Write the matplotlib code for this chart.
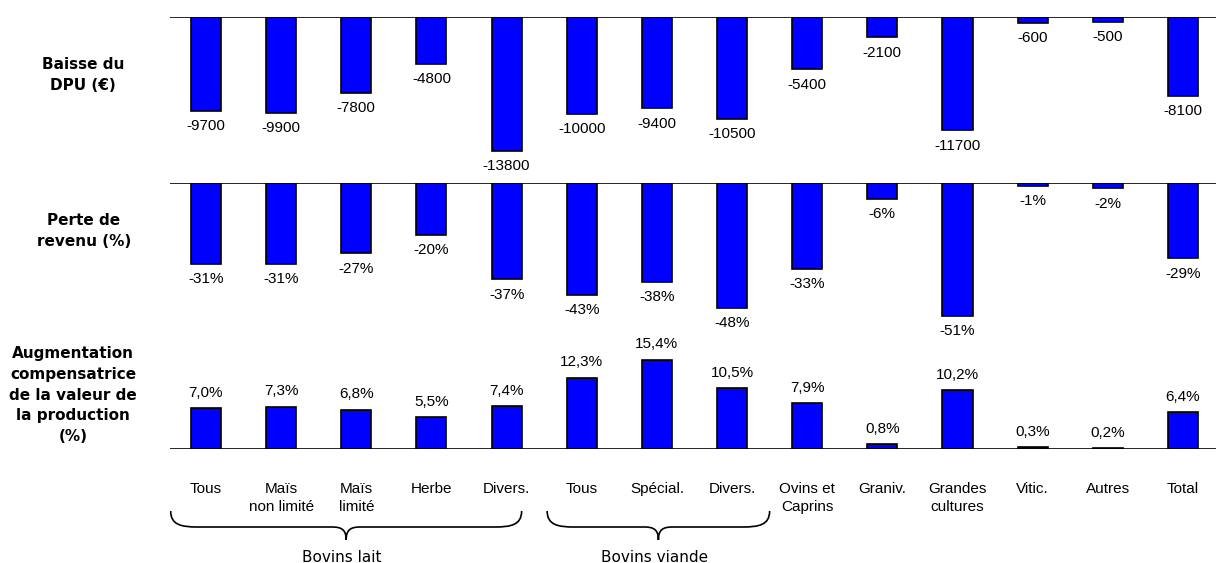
import numpy as np
import matplotlib
matplotlib.use("Agg")
import matplotlib.pyplot as plt
from matplotlib.path import Path
from matplotlib.patches import PathPatch

# --- données ---
categories = ["Tous", "Maïs\nnon limité", "Maïs\nlimité", "Herbe", "Divers.",
              "Tous", "Spécial.", "Divers.", "Ovins et\nCaprins", "Graniv.",
              "Grandes\ncultures", "Vitic.", "Autres", "Total"]
baisse_dpu = [-9700, -9900, -7800, -4800, -13800, -10000, -9400, -10500,
              -5400, -2100, -11700, -600, -500, -8100]
perte_revenu = [-31, -31, -27, -20, -37, -43, -38, -48, -33, -6, -51, -1, -2, -29]
augm_prod = [7.0, 7.3, 6.8, 5.5, 7.4, 12.3, 15.4, 10.5, 7.9, 0.8, 10.2, 0.3, 0.2, 6.4]
row_titles = ["Baisse du\nDPU (€)", "Perte de\nrevenu (%)",
              "Augmentation\ncompensatrice\nde la valeur de\nla production\n(%)"]
groups = ["Bovins lait", "Bovins viande"]
group_spans = [(-0.47, 4.2), (4.54, 7.5)]

W, H = 1216, 563
BLUE = "#0000FF"
ARIAL = "Liberation Sans"
TAHOMA = "DejaVu Sans"

fig = plt.figure(figsize=(W / 100, H / 100), dpi=100)


def px_axes(top, bottom, left=170, right=1216):
    # position en pixels (origine en haut à gauche) -> fraction figure
    return fig.add_axes([left / W, 1 - bottom / H, (right - left) / W, (bottom - top) / H])


x = np.arange(len(categories))
xlim = (-0.479, 13.44)


def setup(ax):
    ax.set_xlim(*xlim)
    ax.axis("off")
    ax.axhline(0, color="black", lw=1.2, zorder=3)


# panneau 1 : baisse du DPU
ax1 = px_axes(17, 175)
setup(ax1)
ax1.set_ylim(-158 / 0.0097, 0)
ax1.bar(x, baisse_dpu, width=0.4, color=BLUE, edgecolor="black", lw=1.2)
for xi, v in zip(x, baisse_dpu):
    ax1.annotate(f"{v}", (xi, v), xytext=(0, -6), textcoords="offset points",
                 ha="center", va="top", fontsize=11, family=ARIAL)

# panneau 2 : perte de revenu
ax2 = px_axes(183, 340)
setup(ax2)
ax2.set_ylim(-157 / 2.6, 0)
ax2.bar(x, perte_revenu, width=0.4, color=BLUE, edgecolor="black", lw=1.2)
for xi, v in zip(x, perte_revenu):
    ax2.annotate(f"{v}%", (xi, v), xytext=(0, -6), textcoords="offset points",
                 ha="center", va="top", fontsize=11, family=ARIAL)

# panneau 3 : augmentation compensatrice
ax3 = px_axes(340, 449)
setup(ax3)
ax3.set_ylim(0, 109 / 5.8)
ax3.bar(x, augm_prod, width=0.4, color=BLUE, edgecolor="black", lw=1.2)
for xi, v in zip(x, augm_prod):
    ax3.annotate(f"{v:.1f}%".replace(".", ","), (xi, v), xytext=(0, 6),
                 textcoords="offset points", ha="center", va="bottom",
                 fontsize=11, family=ARIAL)

# titres de lignes (à gauche)
for title, (cx, cy) in zip(row_titles, [(83, 75), (84, 231), (73, 395)]):
    fig.text(cx / W, 1 - cy / H, title, ha="center", va="center", fontsize=11,
             fontweight="bold", family=TAHOMA, linespacing=1.47)

# zone du bas : catégories et accolades (coordonnées y en pixels)
ax4 = px_axes(449, 563)
ax4.set_xlim(*xlim)
ax4.set_ylim(563, 449)
ax4.axis("off")

for xi, lab in zip(x, categories):
    ax4.text(xi, 482, lab, ha="center", va="top", fontsize=11, family=ARIAL,
             linespacing=1.4)

ux = (1216 - 170) / (xlim[1] - xlim[0])  # pixels par unité x


def brace(ax, x0, x1, y_top=511, y_h=527, y_tip=540):
    xm = (x0 + x1) / 2
    d1 = 27 / ux
    d2 = 14 / ux
    verts = [(x0, y_top), (x0, y_h - 2), (x0 + d1 * 0.4, y_h), (x0 + d1, y_h),
             (xm - d2, y_h),
             (xm - d2 * 0.3, y_h), (xm, y_h + 3), (xm, y_tip),
             (xm, y_h + 3), (xm + d2 * 0.3, y_h), (xm + d2, y_h),
             (x1 - d1, y_h),
             (x1 - d1 * 0.4, y_h), (x1, y_h - 2), (x1, y_top)]
    codes = [Path.MOVETO, Path.CURVE4, Path.CURVE4, Path.CURVE4,
             Path.LINETO,
             Path.CURVE4, Path.CURVE4, Path.CURVE4,
             Path.CURVE4, Path.CURVE4, Path.CURVE4,
             Path.LINETO,
             Path.CURVE4, Path.CURVE4, Path.CURVE4]
    ax.add_patch(PathPatch(Path(verts, codes), fill=False, lw=1.2, color="black"))
    return xm


for name, (g0, g1) in zip(groups, group_spans):
    xm = brace(ax4, g0, g1)
    ax4.text(xm - 4 / ux, 557, name, ha="center", va="center", fontsize=11,
             family=TAHOMA)

fig.savefig("out.png", dpi=100)
